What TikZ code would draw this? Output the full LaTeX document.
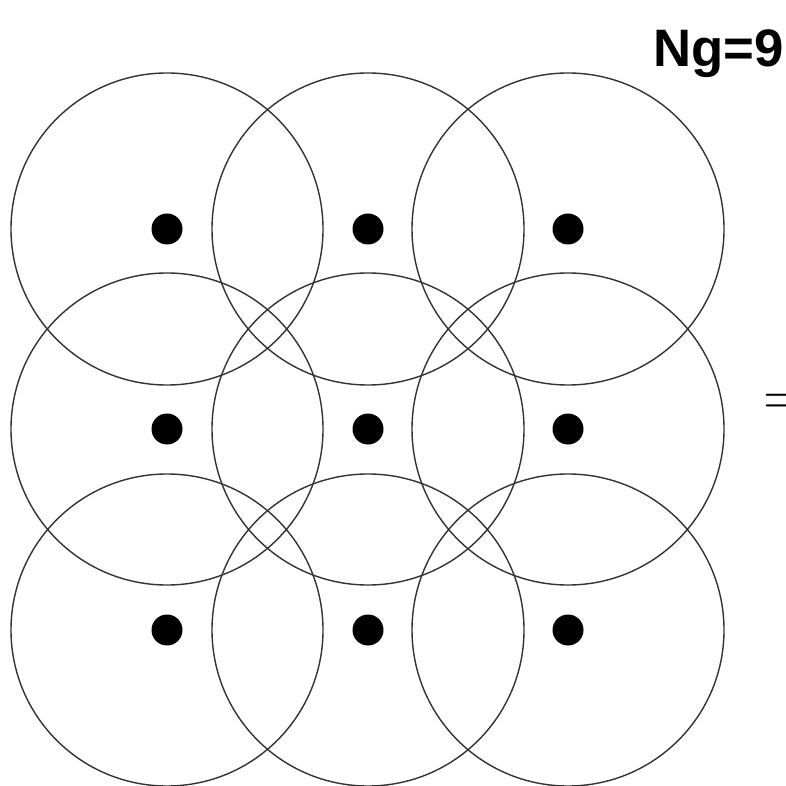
\documentclass[tikz,border=0pt]{standalone}
\usepackage{fontspec}
\newfontfamily\labelfont{Liberation Sans}
\usepackage{tikz}
\usetikzlibrary{positioning}

\begin{document}
\begin{tikzpicture}[x=0.02cm,y=-0.02cm,
	cell/.style={draw=black!80, line width=0.8pt},
	centre/.style={fill=black}]
		\useasboundingbox (0,0) rectangle (786,786);
		%Coverage circles around the 3x3 grid points
		\foreach \y in {229,429,630}
		\foreach \x in {167,368,568}
		\draw[cell] (\x,\y) circle (156);
		\foreach \y in {229,429,630}
		\foreach \x in {167,368,568}
		\fill[centre] (\x,\y) circle (15.5);
		\node[anchor=north east, inner sep=0pt, font=\labelfont\bfseries\fontsize{30}{32}\selectfont] (ng) at (784,29) {Ng=9};
		\node[anchor=base west, inner sep=0pt, font=\fontsize{34}{34}\selectfont] (eq) at (763,415) {=};
		\end{tikzpicture}
\end{document}
